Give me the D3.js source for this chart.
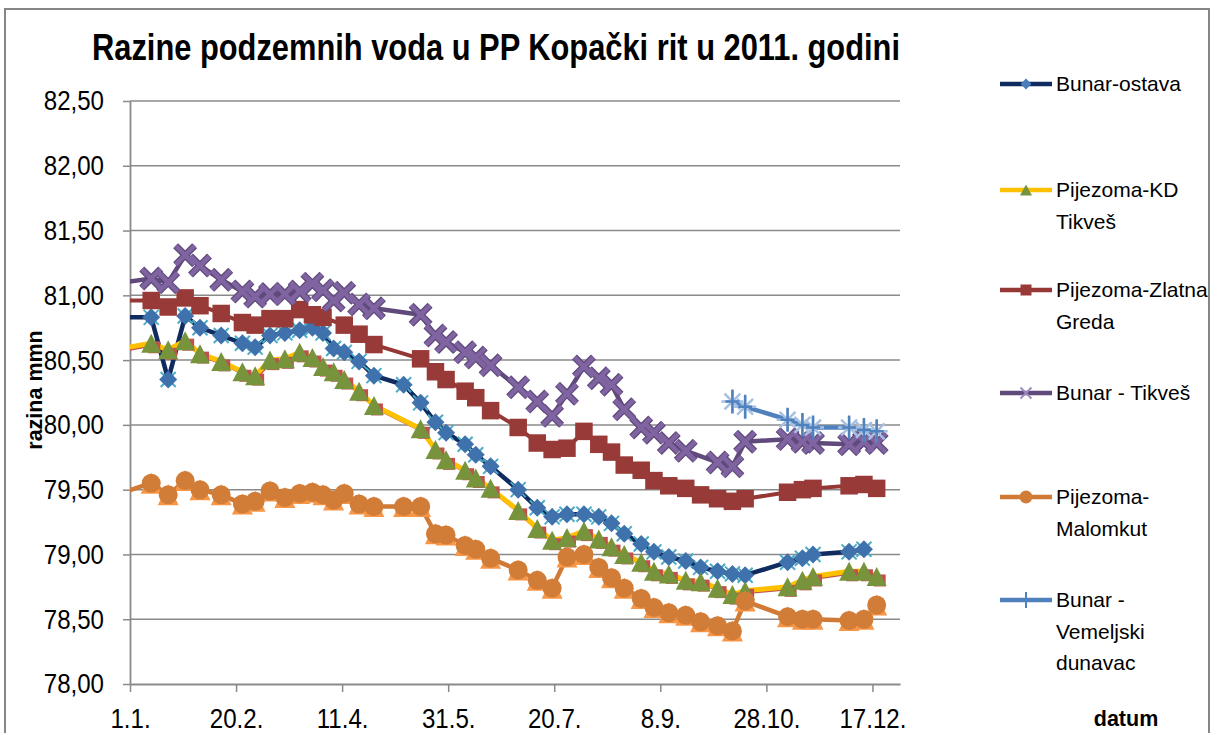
<!DOCTYPE html>
<html><head><meta charset="utf-8">
<script src="https://cdn.jsdelivr.net/npm/d3@7"></script>
<style>body{margin:0;background:#fff} svg{display:block}</style>
</head><body><svg id="c" width="1224" height="733"></svg>
<script>
// ---------- DATA ----------
const dates = ["2010-12-25","2011-01-11","2011-01-19","2011-01-27","2011-02-03","2011-02-13","2011-02-23","2011-03-01","2011-03-08","2011-03-15","2011-03-22","2011-03-28","2011-04-02","2011-04-07","2011-04-12","2011-04-19","2011-04-26","2011-05-10","2011-05-18","2011-05-25","2011-05-30","2011-06-08","2011-06-13","2011-06-20","2011-07-03","2011-07-12","2011-07-19","2011-07-26","2011-08-03","2011-08-10","2011-08-16","2011-08-22","2011-08-30","2011-09-05","2011-09-12","2011-09-20","2011-09-27","2011-10-05","2011-10-12","2011-10-18","2011-11-07","2011-11-14","2011-11-19","2011-12-06","2011-12-13","2011-12-19"];
const bunarOstava = [80.83,80.83,80.35,80.84,80.75,80.69,80.63,80.60,80.69,80.71,80.73,80.75,80.71,80.59,80.56,80.49,80.38,80.31,80.17,80.02,79.94,79.85,79.77,79.68,79.50,79.36,79.29,79.31,79.31,79.29,79.24,79.16,79.08,79.02,78.98,78.95,78.90,78.87,78.85,78.84,78.94,78.97,79.00,79.02,79.04,null];
const pijezomaKD = [80.58,80.63,80.58,80.65,80.55,80.49,80.41,80.38,80.50,80.51,80.56,80.52,80.45,80.41,80.35,80.26,80.15,null,79.97,79.81,79.73,79.65,79.59,79.51,79.34,79.20,79.11,79.13,79.18,79.12,79.06,79.00,78.94,78.87,78.85,78.80,78.79,78.74,78.69,78.72,78.75,78.80,78.83,78.87,78.87,78.83];
const zlatnaGreda = [80.96,80.96,80.91,80.98,80.92,80.86,80.79,80.77,80.82,80.82,80.89,80.85,80.83,null,80.77,80.70,80.62,null,80.51,80.41,80.35,80.26,80.21,80.11,79.98,79.86,79.81,79.82,79.95,79.85,79.79,79.69,79.65,79.57,79.53,79.51,79.46,79.43,79.41,79.43,79.48,79.50,79.51,79.53,79.54,79.51];
const bunarTikves = [81.09,81.13,81.10,81.31,81.23,81.12,81.03,80.99,81.01,81.01,81.03,81.09,81.04,80.96,81.02,80.93,80.90,null,80.85,80.69,80.64,80.56,80.52,80.46,80.29,80.18,80.07,80.24,80.45,80.36,80.31,80.12,79.98,79.94,79.86,79.80,null,79.71,79.68,79.87,79.89,79.87,79.86,79.85,79.87,79.86];
const malomkut = [79.46,79.55,79.46,79.57,79.50,79.46,79.39,79.41,79.49,79.44,79.47,79.48,79.46,79.42,79.47,79.39,79.37,79.37,79.37,79.16,79.15,79.07,79.04,78.97,78.88,78.80,78.74,78.98,79.00,78.90,78.82,78.74,78.66,78.59,78.55,78.53,78.48,78.45,78.41,78.64,78.52,78.50,78.50,78.49,78.50,78.61];
const vemeljski = [null,null,null,null,null,null,null,null,null,null,null,null,null,null,null,null,null,null,null,null,null,null,null,null,null,null,null,null,null,null,null,null,null,null,null,null,null,null,80.18,80.14,80.04,80.00,79.98,79.98,79.96,79.95];
const yTicks = [78.0,78.5,79.0,79.5,80.0,80.5,81.0,81.5,82.0,82.5];
const xTickDays = [0,50,100,150,200,250,300,350];
const titleText = "Razine podzemnih voda u PP Kopački rit u 2011. godini";
const yTitle = "razina mmn";
const xTitle = "datum";
const legendLabels = [["Bunar-ostava"],["Pijezoma-KD","Tikveš"],["Pijezoma-Zlatna","Greda"],["Bunar - Tikveš"],["Pijezoma-","Malomkut"],["Bunar -","Vemeljski","dunavac"]];

// ---------- SETUP ----------
const svg = d3.select("#c");
const parse = d3.timeParse("%Y-%m-%d");
const start = new Date(2011,0,1), end = new Date(2011,11,30);
const L=130, R=900, T=101, B=684;
const x = d3.scaleTime().domain([start,end]).range([L,R]);
const y = d3.scaleLinear().domain([78,82.5]).range([B,T]);
const FONT = "'Liberation Sans', Arial, sans-serif";
const NARROW = "'Liberation Sans Narrow', 'Arial Narrow', 'Liberation Sans', sans-serif";

function squeeze(sel, k){
  sel.each(function(){
    const w = this.getComputedTextLength();
    d3.select(this).attr("textLength", w*k).attr("lengthAdjust","spacingAndGlyphs");
  });
}

svg.append("rect").attr("x",5).attr("y",9).attr("width",1204).attr("height",760)
  .attr("fill","#fff").attr("stroke","#868686").attr("stroke-width",2);

svg.append("text").attr("x",496).attr("y",60).attr("text-anchor","middle")
  .attr("font-family",NARROW).attr("font-weight","bold").attr("font-size",37)
  .attr("textLength",808).attr("lengthAdjust","spacingAndGlyphs").text(titleText);

// gridlines
svg.append("g").selectAll("line").data(yTicks.filter(d=>d>78)).join("line")
  .attr("x1",L).attr("x2",R).attr("y1",d=>y(d)).attr("y2",d=>y(d))
  .attr("stroke","#8a8a8a").attr("stroke-width",1.5);

const fmt = d => d.toFixed(2).replace(".",",");
const gy = svg.append("g").attr("transform",`translate(${L},0)`)
  .call(d3.axisLeft(y).tickValues(yTicks).tickFormat(fmt).tickSize(7).tickSizeOuter(0).tickPadding(19));
const gx = svg.append("g").attr("transform",`translate(0,${B})`)
  .call(d3.axisBottom(x).tickValues(xTickDays.map(d=>d3.timeDay.offset(start,d)))
    .tickFormat(d3.timeFormat("%-d.%-m.")).tickSize(8).tickSizeOuter(0).tickPadding(16));
[gy,gx].forEach(g=>{
  g.selectAll("path.domain").attr("stroke","#8a8a8a").attr("stroke-width",1.8);
  g.selectAll(".tick line").attr("stroke","#8a8a8a").attr("stroke-width",1.5);
  const t = g.selectAll("text").attr("font-family",FONT).attr("font-size",28).attr("fill","#000");
  squeeze(t, 0.86);
});

svg.append("text").attr("transform","translate(42,390) rotate(-90)").attr("text-anchor","middle")
  .attr("font-family",FONT).attr("font-weight","bold").attr("font-size",21.5).text(yTitle);
svg.append("text").attr("x",1126).attr("y",726).attr("text-anchor","middle")
  .attr("font-family",FONT).attr("font-weight","bold").attr("font-size",21.5).text(xTitle);

// ---------- MARKERS ----------
const mk = {
  diamond: r=>`M0,${-r}L${r},0L0,${r}L${-r},0Z`,
  tri: (w,h)=>`M0,${-h/2}L${w/2},${h/2}L${-w/2},${h/2}Z`,
  square: s=>`M${-s/2},${-s/2}h${s}v${s}h${-s}Z`,
  circle: r=>`M${-r},0A${r},${r} 0 1,0 ${r},0A${r},${r} 0 1,0 ${-r},0Z`,
  x: r=>`M${-r},${-r}L${r},${r}M${-r},${r}L${r},${-r}`,
  plus: (v,h)=>`M0,${-v}V${v}M${-h},0H${h}`,
  star: r=>`M${-r},0H${r}M${-r*.72},${-r*.72}L${r*.72},${r*.72}M${-r*.72},${r*.72}L${r*.72},${-r*.72}M0,${-r}V${r}`
};

const series = [
  {vals:bunarOstava, line:"#0f2b5f", lw:4.5,
   layers:[{p:mk.x(7.5),stroke:"#4bacc6",sw:2,fill:"none"},{p:mk.diamond(9),fill:"#3f72ad"}],
   leg:[{p:mk.diamond(5.5),fill:"#4a7ebb"}]},
  {vals:pijezomaKD, line:"#ffc000", lw:5, under:{color:"#c0504d",dx:1,dy:2,w:3},
   layers:[{p:mk.square(12),fill:"#c0504d",dx:3,dy:4},{p:mk.tri(20,19),fill:"#77933c"}],
   leg:[{p:mk.tri(12,11),fill:"#77933c"}]},
  {vals:zlatnaGreda, line:"#953735", lw:4,
   layers:[{p:mk.square(17.5),fill:"#983a38"}],
   leg:[{p:mk.square(11),fill:"#983a38"}]},
  {vals:bunarTikves, line:"#604a7b", lw:4.5,
   layers:[{p:mk.x(9.5),stroke:"#5f4a7a",sw:7,fill:"none"},{p:mk.x(9.5),stroke:"#8064a2",sw:4.5,fill:"none"}],
   leg:[{p:mk.x(5.5),stroke:"#9d88bd",sw:1.8,fill:"none"}]},
  {vals:malomkut, line:"#d07a36", lw:4.5,
   layers:[{p:mk.tri(21,21),fill:"#f79646",dy:0},{p:mk.circle(9.5),fill:"#d17c37"}],
   leg:[{p:mk.circle(6.5),fill:"#d17c37"}]},
  {vals:vemeljski, line:"#4f81bd", lw:4.5,
   layers:[{p:mk.star(11),stroke:"#a5c0e3",sw:2.5,fill:"none"},{p:mk.plus(12,7),stroke:"#4f81bd",sw:2.5,fill:"none"}],
   leg:[{p:mk.plus(8,0),stroke:"#4f81bd",sw:2,fill:"none"}]}
];

svg.append("clipPath").attr("id","plot").append("rect")
  .attr("x",L).attr("y",T-15).attr("width",R-L+15).attr("height",B-T+15);
const plot = svg.append("g").attr("clip-path","url(#plot)");
const line = d3.line().x(d=>x(d.date)).y(d=>y(d.v));

series.forEach(s=>{
  const pts = dates.map((d,i)=>({date:parse(d),v:s.vals[i]})).filter(d=>d.v!=null);
  if(s.under){
    plot.append("path").datum(pts).attr("d",line).attr("fill","none")
      .attr("stroke",s.under.color).attr("stroke-width",s.under.w)
      .attr("transform",`translate(${s.under.dx},${s.under.dy})`);
  }
  plot.append("path").datum(pts).attr("d",line).attr("fill","none")
    .attr("stroke",s.line).attr("stroke-width",s.lw).attr("stroke-linejoin","round");
  s.layers.forEach(l=>{
    plot.append("g").selectAll("path").data(pts).join("path")
      .attr("transform",d=>`translate(${x(d.date)+(l.dx||0)},${y(d.v)+(l.dy||0)})`)
      .attr("d",l.p).attr("fill",l.fill||"none")
      .attr("stroke",l.stroke||"none").attr("stroke-width",l.sw||0);
  });
});

// ---------- LEGEND ----------
const legY = [84,190,290,393,497,600];
series.forEach((s,i)=>{
  const g = svg.append("g").attr("transform",`translate(0,${legY[i]})`);
  g.append("line").attr("x1",1000).attr("x2",1052).attr("y1",0).attr("y2",0)
    .attr("stroke",s.line).attr("stroke-width",4.5);
  s.leg.forEach(l=>g.append("path").attr("transform","translate(1026,0)").attr("d",l.p)
    .attr("fill",l.fill||"none").attr("stroke",l.stroke||"none").attr("stroke-width",l.sw||0));
  legendLabels[i].forEach((t,j)=>{
    g.append("text").attr("x",1056).attr("y",j*31.5).attr("dy","0.35em")
      .attr("font-family",FONT).attr("font-size",21).attr("fill","#000").text(t);
  });
});
</script></body></html>
